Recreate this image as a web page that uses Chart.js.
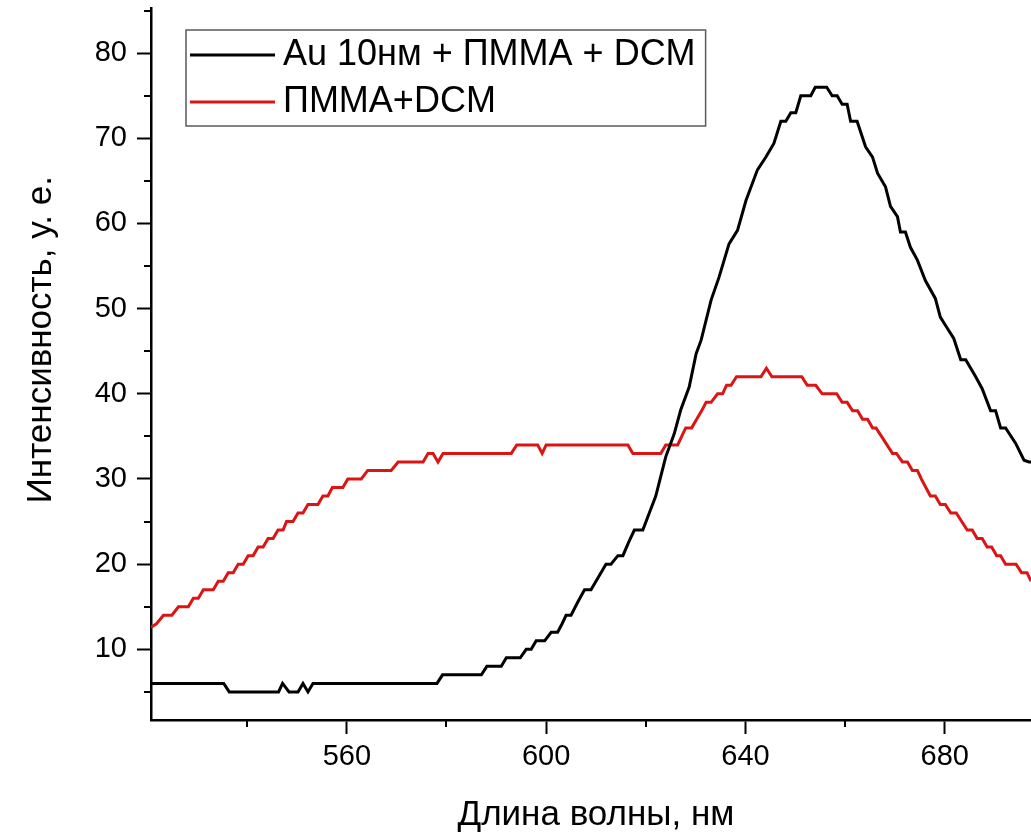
<!DOCTYPE html>
<html>
<head>
<meta charset="utf-8">
<script src="https://cdn.jsdelivr.net/npm/chart.js@4"></script>
<style>
  body { margin: 0; background: #fff; }
  canvas { display: block; }
</style>
</head>
<body>
<canvas id="spectrum" width="1031" height="832"></canvas>
<script>
// values
const seriesLabels = ["Au 10нм + ПММА + DCM", "ПММА+DCM"];

const wavelengthAu = [
  520.7, 535.3, 536.4, 546.3, 547.1, 548.4, 550.2, 551.2, 552.2, 553.2,
  578.1, 579.2, 587.0, 588.1, 591.0, 592.0, 594.8, 596.0, 597.0, 598.0,
  599.7, 601.0, 602.3, 603.2, 604.0, 605.0, 606.3, 607.7, 609.0, 610.5,
  612.0, 613.0, 614.4, 615.4, 616.5, 617.7, 619.4, 620.7, 622.0, 623.0,
  624.0, 625.7, 627.0, 628.7, 630.1, 631.1, 633.1, 634.7, 636.7, 638.4,
  640.1, 642.4, 644.1, 645.7, 647.1, 648.1, 649.1, 650.1, 651.1, 653.1,
  654.0, 656.3, 657.4, 658.4, 659.4, 660.4, 661.1, 662.4, 664.1, 665.5,
  666.5, 668.1, 669.1, 670.5, 671.1, 672.1, 673.1, 674.5, 676.1, 678.1,
  679.1, 680.5, 681.8, 683.2, 684.2, 686.2, 687.5, 689.2, 690.2, 691.2,
  692.2, 694.2, 695.9, 696.9, 697.3
];
const intensityAu = [
  6, 6, 5, 5, 6, 5, 5, 6, 5, 6,
  6, 7, 7, 8, 8, 9, 9, 10, 10, 11,
  11, 12, 12, 13, 14, 14, 15.5, 17, 17, 18.5,
  20, 20, 21, 21, 22.5, 24, 24, 26, 28, 30.3,
  32.6, 35.3, 38.1, 40.8, 44.7, 46.3, 51, 53.7, 57.6, 59.2,
  62.7, 66.3, 67.8, 69.4, 72, 72, 73, 73, 75, 75,
  76, 76, 75, 75, 74, 74, 72, 72, 69, 67.8,
  65.9, 64.3, 62, 60.8, 59, 59, 57.2, 55.7, 53.3, 51.2,
  49, 47.7, 46.5, 44, 44, 42, 40.6, 38, 38, 36,
  36, 34.2, 32.2, 32, 32
];

const wavelengthPmma = [
  520.7, 521.8, 523.2, 524.9, 526.2, 528.2, 529.2, 530.2, 531.2, 533.2,
  534.2, 535.2, 536.2, 537.2, 538.2, 539.2, 540.2, 541.2, 542.2, 543.2,
  544.2, 545.2, 546.2, 547.2, 547.9, 549.2, 550.2, 551.2, 552.2, 554.2,
  555.2, 556.2, 557.1, 559.2, 560.2, 562.9, 564.2, 568.9, 570.3, 575.3,
  576.3, 577.3, 578.3, 579.3, 593.0, 594.1, 598.3, 599.2, 600.0, 616.4,
  617.4, 623.0, 624.0, 626.4, 627.2, 628.0, 629.2, 630.2, 631.2, 632.1,
  633.1, 634.4, 635.4, 636.2, 637.1, 638.2, 643.1, 644.2, 645.3, 651.3,
  652.4, 654.1, 655.4, 658.3, 659.4, 660.4, 661.5, 662.5, 663.5, 664.5,
  665.5, 666.2, 667.3, 668.4, 669.5, 670.3, 671.5, 672.5, 673.5, 674.5,
  675.3, 676.2, 677.1, 678.1, 679.1, 680.1, 681.2, 682.3, 683.4, 684.5,
  685.5, 686.5, 687.5, 688.5, 689.4, 690.4, 691.2, 692.2, 694.3, 695.4,
  696.5, 697.3
];
const intensityPmma = [
  12.6, 13, 14, 14, 15, 15, 16, 16, 17, 17,
  18, 18, 19, 19, 20, 20, 21, 21, 22, 22,
  23, 23, 24, 24, 25, 25, 26, 26, 27, 27,
  28, 28, 29, 29, 30, 30, 31, 31, 32, 32,
  33, 33, 32, 33, 33, 34, 34, 33, 34, 34,
  33, 33, 34, 34, 35, 36, 36, 37, 38, 39,
  39, 40, 40, 41, 41, 42, 42, 43, 42, 42,
  41, 41, 40, 40, 39, 39, 38, 38, 37, 37,
  36, 36, 35, 34, 33, 33, 32, 32, 31, 31,
  30, 29, 28, 28, 27, 27, 26, 26, 25, 24,
  24, 23, 23, 22, 22, 21, 21, 20, 20, 19,
  19, 18
];

const xMajorTicks = [560, 600, 640, 680];
const xMinorTicks = [540, 580, 620, 660];
const yMajorTicks = [10, 20, 30, 40, 50, 60, 70, 80];
const yMinorTicks = [5, 15, 25, 35, 45, 55, 65, 75, 85];

const FONT = "'Liberation Sans', Arial, sans-serif";

function toPoints(xs, ys) {
  return xs.map((x, i) => ({ x: x, y: ys[i] }));
}

// short minor ticks on both axes
const minorTicks = {
  id: "minorTicks",
  afterDraw(chart) {
    const ctx = chart.ctx;
    const xs = chart.scales.x;
    const ys = chart.scales.y;
    ctx.save();
    ctx.strokeStyle = "#000";
    ctx.lineWidth = 2;
    ctx.beginPath();
    xMinorTicks.forEach((v) => {
      const px = Math.round(xs.getPixelForValue(v));
      ctx.moveTo(px, xs.top);
      ctx.lineTo(px, xs.top + 7);
    });
    yMinorTicks.forEach((v) => {
      const py = Math.round(ys.getPixelForValue(v));
      ctx.moveTo(ys.right - 7, py);
      ctx.lineTo(ys.right, py);
    });
    ctx.stroke();
    ctx.restore();
  },
};

// boxed legend inside the plot, top left
const boxLegend = {
  id: "boxLegend",
  afterDraw(chart) {
    const ctx = chart.ctx;
    const area = chart.chartArea;
    const left = area.left + 35;
    const top = area.top + 22;
    const rowH = 47;
    ctx.save();
    ctx.font = "36px " + FONT;
    ctx.textBaseline = "middle";
    let maxW = 0;
    chart.data.datasets.forEach((ds) => {
      maxW = Math.max(maxW, ctx.measureText(ds.label).width);
    });
    const w = 97 + maxW + 10;
    const h = rowH * chart.data.datasets.length + 2;
    ctx.strokeStyle = "#5a5a5a";
    ctx.lineWidth = 1.5;
    ctx.strokeRect(left, top, w, h);
    chart.data.datasets.forEach((ds, i) => {
      const y = top + 25 + i * rowH;
      ctx.strokeStyle = ds.borderColor;
      ctx.lineWidth = 3;
      ctx.beginPath();
      ctx.moveTo(left + 4, y);
      ctx.lineTo(left + 89, y);
      ctx.stroke();
      ctx.fillStyle = "#000";
      ctx.fillText(ds.label, left + 97, y);
    });
    ctx.restore();
  },
};

new Chart(document.getElementById("spectrum"), {
  type: "line",
  data: {
    datasets: [
      {
        label: seriesLabels[0],
        data: toPoints(wavelengthAu, intensityAu),
        borderColor: "#000000",
        borderWidth: 3,
        pointRadius: 0,
        tension: 0,
      },
      {
        label: seriesLabels[1],
        data: toPoints(wavelengthPmma, intensityPmma),
        borderColor: "#dc1414",
        borderWidth: 3,
        pointRadius: 0,
        tension: 0,
      },
    ],
  },
  options: {
    responsive: false,
    animation: false,
    layout: { padding: { top: 8, right: 0, left: 0, bottom: 0 } },
    plugins: { legend: { display: false }, tooltip: { enabled: false } },
    scales: {
      x: {
        type: "linear",
        min: 520.7,
        max: 697.3,
        afterBuildTicks: (s) => { s.ticks = xMajorTicks.map((v) => ({ value: v })); },
        afterFit: (s) => { s.height = 112; s.paddingLeft = 0; s.paddingRight = 0; },
        grid: { drawOnChartArea: false, tickLength: 14, tickWidth: 2, tickColor: "#000" },
        border: { color: "#000", width: 2.5 },
        ticks: { color: "#000", font: { family: FONT, size: 29 }, padding: 6, maxRotation: 0 },
        title: {
          display: true,
          text: " Длина волны, нм",
          color: "#000",
          font: { family: FONT, size: 35 },
          padding: { top: 0, bottom: -4 },
        },
      },
      y: {
        min: 1.7,
        max: 85.3,
        afterBuildTicks: (s) => { s.ticks = yMajorTicks.map((v) => ({ value: v })); },
        afterFit: (s) => { s.width = 151; s.paddingTop = 0; s.paddingBottom = 0; },
        grid: { drawOnChartArea: false, tickLength: 14, tickWidth: 2, tickColor: "#000" },
        border: { color: "#000", width: 2.5 },
        ticks: { color: "#000", font: { family: FONT, size: 29 }, padding: 10 },
        title: {
          display: true,
          text: "     Интенсивность, у. е.",
          color: "#000",
          font: { family: FONT, size: 35 },
          padding: { top: 20, bottom: 0 },
        },
      },
    },
  },
  plugins: [minorTicks, boxLegend],
});
</script>
</body>
</html>
